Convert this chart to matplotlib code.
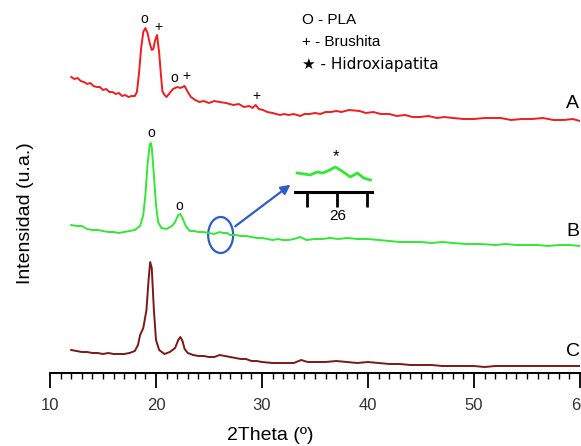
import matplotlib.pyplot as plt
from matplotlib.patches import Ellipse

plt.rcParams['font.family'] = ['Liberation Sans', 'DejaVu Sans']

# XRD patterns (intensity in arbitrary units, offset per curve)
tt_a = [12.0, 12.3, 12.6, 12.9, 13.2, 13.5, 13.8, 14.1, 14.4, 14.7, 15.0, 15.3, 15.6, 15.9,
        16.2, 16.5, 16.8, 17.1, 17.4, 17.7, 18.0, 18.2,
        18.4, 18.6, 18.8, 19.0, 19.2, 19.4, 19.6, 19.75, 19.9, 20.1, 20.3, 20.45, 20.6, 20.8,
        21.0, 21.3, 21.6, 22.0, 22.3, 22.7, 23.0, 23.3, 23.7, 24.1, 24.5, 25.0, 25.5, 26.0,
        26.6, 27.3, 27.8, 28.3, 28.8,
        29.1, 29.4, 29.7, 30.1, 30.5, 31.0, 31.7, 32.1, 32.5, 33.0, 33.6, 34.0, 34.5, 35.0,
        35.5, 36.0, 36.5, 37.0, 37.5, 38.2, 39.2, 39.8, 40.5, 41.2, 42.0, 42.7,
        43.5, 44.2, 44.9, 45.7, 46.5, 47.2, 48.0, 49.0, 50.0, 51.0, 52.5, 53.5, 54.5, 55.5,
        56.5, 57.5, 58.5, 59.3, 60.0]
int_a = [296, 294, 295, 292, 291, 289, 290, 287, 286, 286, 283, 284, 281, 281,
         279, 280, 277, 278, 276, 277, 277, 281,
         300, 325, 341, 345, 340, 330, 323, 324, 332, 338, 320, 300, 282, 278,
         276, 280, 284, 286, 285, 287, 281, 276, 273, 271, 272, 270, 272, 271,
         270, 268, 269, 266, 267,
         265, 268, 264, 263, 261, 260, 258, 259, 258, 259, 257, 259, 259, 260,
         259, 261, 261, 262, 261, 263, 262, 260, 261, 259, 259, 257,
         258, 256, 256, 257, 255, 256, 255, 254, 254, 255, 255, 253, 254, 254,
         255, 253, 253, 254, 252]

tt_b = [12.0, 12.5, 13.0, 13.5, 14.0, 14.5, 15.0, 15.5, 16.0, 16.5, 17.0, 17.5, 18.0, 18.5,
        18.8, 19.0, 19.2, 19.4,
        19.5, 19.6, 19.8, 20.0, 20.2, 20.5, 21.0, 21.5, 21.8, 22.1, 22.3, 22.5, 22.8, 23.2,
        23.6, 24.0, 24.5, 25.0, 25.5, 26.0, 26.3, 26.7, 27.0, 27.5, 28.0, 28.5, 29.0, 29.5,
        30.0, 30.5, 31.0, 31.5, 32.0, 32.5, 33.0, 33.6, 34.2,
        35.0, 35.7, 36.4, 37.2, 38.0, 39.0, 40.0, 41.0, 42.0, 43.0, 44.0, 45.0, 46.0, 47.0,
        48.0, 49.3, 50.6, 52.0, 53.0, 54.0, 55.0, 56.0, 57.0, 58.0, 59.0, 60.0]
int_b = [148, 147, 147, 144, 143, 143, 142, 141, 141, 140, 141, 142, 143, 147,
         158, 178, 208, 228,
         230, 226, 198, 168, 151, 145, 144, 147, 151, 158, 159, 155, 147, 142,
         142, 141, 141, 140, 139, 141, 140, 140, 138, 138, 137, 137, 136, 135,
         135, 134, 133, 134, 133, 133, 134, 136, 133,
         134, 134, 135, 134, 135, 134, 134, 133, 132, 131, 131, 131, 130, 131,
         130, 129, 129, 128, 129, 128, 128, 128, 127, 128, 128, 127]

tt_c = [12.0, 12.5, 13.0, 13.5, 14.0, 14.5, 15.0, 15.5, 16.0, 16.5, 17.0, 17.5, 18.0, 18.3,
        18.5, 18.8, 19.1, 19.3, 19.45,
        19.6, 19.8, 20.0, 20.3, 20.8, 21.3, 21.8, 22.1, 22.3, 22.5, 22.7, 23.0, 23.5, 24.0,
        24.5, 25.0, 25.5, 26.0, 26.5, 27.0, 27.5, 28.0, 28.5, 29.0, 29.5, 30.0, 31.0, 32.0,
        33.0, 33.7, 34.3, 35.0, 36.0, 37.0,
        38.0, 39.0, 40.0, 41.0, 42.0, 43.0, 44.0, 45.0, 46.0, 47.0, 48.0, 49.0, 50.0, 51.0,
        52.0, 53.5, 55.0, 56.5, 58.0, 59.0, 60.0]
int_c = [23, 22, 21, 21, 20, 20, 19, 20, 19, 19, 19, 20, 22, 28,
         38, 45, 63, 93, 111,
         105, 63, 33, 23, 19, 21, 25, 33, 36, 32, 24, 20, 18, 17,
         17, 16, 16, 18, 17, 16, 15, 14, 14, 12, 12, 11, 10, 10,
         10, 13, 11, 11, 11, 12,
         11, 10, 11, 10, 9, 9, 8, 8, 8, 7, 7, 7, 7, 6,
         7, 7, 7, 7, 7, 7, 7]

# zoomed detail of curve B around 26 degrees
tt_zoom = [24.67, 24.9, 25.1, 25.33, 25.53, 25.75, 25.93, 26.05, 26.2, 26.43, 26.67, 26.87, 27.1]
int_zoom = [19, 18, 17, 20, 19, 22, 25, 23, 20, 15, 19, 14, 12]

ticks = [10, 20, 30, 40, 50, 60]

fig = plt.figure(figsize=(5.81, 4.46), dpi=100)
ax = fig.add_axes([50/581, 1 - 373/446, 530/581, 373/446])

ax.plot(tt_a, int_a, color='#f21c1c', lw=1.4)
ax.plot(tt_b, int_b, color='#33e833', lw=1.4)
ax.plot(tt_c, int_c, color='#7b1818', lw=1.4)

ax.set_xlim(10, 60)
ax.set_ylim(0, 373)
ax.set_xticks(ticks)
ax.set_xticks(range(10, 61), minor=True)
ax.tick_params(axis='x', which='major', direction='out', length=11, width=1.3,
               pad=7, labelsize=12, labelcolor='#333333')
ax.tick_params(axis='x', which='minor', direction='out', length=4, width=1.0)
ax.set_yticks([])
for s in ['left', 'top', 'right']:
    ax.spines[s].set_visible(False)
ax.spines['bottom'].set_linewidth(1.4)

# peak markers
mk = dict(ha='center', va='center', fontsize=10, color='black')
ax.text(18.87, 354, 'o', **mk)
ax.text(20.19, 346, '+', **mk)
ax.text(21.7, 295, 'o', **mk)
ax.text(22.83, 297, '+', **mk)
ax.text(29.43, 277, '+', **mk)
ax.text(19.53, 240, 'o', **mk)
ax.text(22.17, 167, 'o', **mk)

# curve letters
ax.text(59.3, 269, 'A', ha='center', va='center', fontsize=14)
ax.text(59.3, 141, 'B', ha='center', va='center', fontsize=14)
ax.text(59.3, 21, 'C', ha='center', va='center', fontsize=14)

# key
ax.text(33.77, 353, 'O - PLA', ha='left', va='center', fontsize=11)
ax.text(33.77, 331, '+ - Brushita', ha='left', va='center', fontsize=11)
ax.text(33.77, 308, '\u2605 - Hidroxiapatita', ha='left', va='center', fontsize=11,
        family=['DejaVu Sans'])

# ellipse and arrow to the zoom
ax.add_patch(Ellipse((26.1, 138), 2.36, 36, fill=False, ec='#2e5cc8', lw=1.6))
ax.annotate('', xy=(32.9, 190), xytext=(27.26, 145),
            arrowprops=dict(arrowstyle='-|>', color='#2e5cc8', lw=1.6, mutation_scale=14))

# inset
ins = fig.add_axes([295/581, 1 - 192/446, 77/581, 42/446])
ins.plot(tt_zoom, int_zoom, color='#33e833', lw=2.0)
ins.set_xlim(24.6, 27.15)
ins.set_ylim(0, 42)
ins.set_xticks([25, 26, 27])
ins.set_xticklabels(['', '26', ''])
ins.tick_params(axis='x', direction='out', length=11, width=2.0, pad=1, labelsize=11)
ins.set_yticks([])
ins.patch.set_alpha(0)
for s in ['left', 'top', 'right']:
    ins.spines[s].set_visible(False)
ins.spines['bottom'].set_linewidth(2.2)
ins.text(25.95, 35, '*', ha='center', va='center', fontsize=12)

fig.text(25/581, 1 - 213/446, 'Intensidad (u.a.)', rotation=90, ha='center', va='center',
         fontsize=14)
fig.text(270/581, 1 - 435/446, '2Theta (\u00ba)', ha='center', va='center', fontsize=14)

fig.savefig('out.png', dpi=100)
